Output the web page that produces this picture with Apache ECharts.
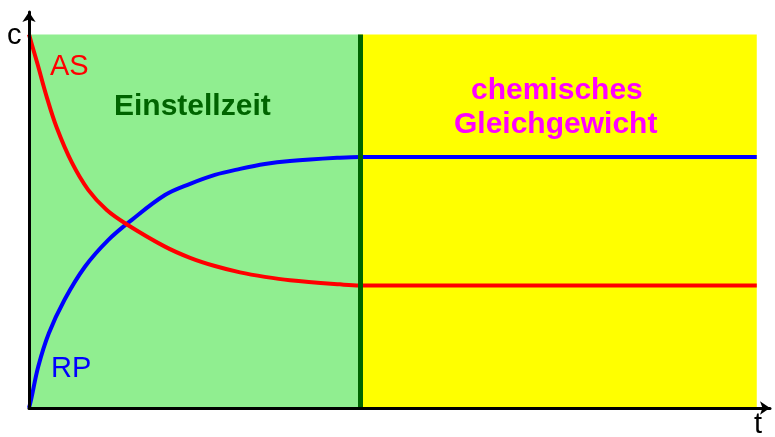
<!DOCTYPE html>
<html>
<head>
<meta charset="utf-8">
<script src="https://cdn.jsdelivr.net/npm/echarts@6/dist/echarts.min.js"></script>
<style>
  html, body { margin: 0; padding: 0; background: #fff; }
  #chart { width: 775px; height: 437px; }
</style>
</head>
<body>
<div id="chart"></div>
<script>
// Ausgangsstoffe (AS) und Reaktionsprodukte (RP): Zeit t, Konzentration c
var tAS = [0, 0.08, 0.26, 0.535, 0.84, 1.29, 1.79, 2.35, 2.95, 4.11, 4.87, 5.62, 6.38, 7.13, 7.89, 9.4, 10, 22];
var cAS = [100, 97.5, 92.0, 83.3, 75.0, 65.8, 58.4, 53.0, 49.2, 43.2, 40.2, 38.0, 36.3, 35.1, 34.2, 33.1, 32.8, 32.8];

var tRP = [0, 0.06, 0.28, 0.6, 1.07, 1.69, 2.4, 3.1, 4.11, 4.87, 5.62, 6.38, 7.13, 7.89, 9.4, 10, 22];
var cRP = [0, 2.1, 11.1, 20.0, 28.9, 37.8, 45.0, 50.3, 57.0, 60.0, 62.4, 64.0, 65.3, 66.1, 67.0, 67.2, 67.2];

// Phasen: Einstellzeit / chemisches Gleichgewicht
var phaseNames = ['Einstellzeit', 'chemisches', 'Gleichgewicht'];
var phaseStart = [0, 10];
var phaseEnd = [10, 22];
var cMax = 100;

function pairs(xs, ys) {
    var out = [];
    for (var i = 0; i < xs.length; i++) out.push([xs[i], ys[i]]);
    return out;
}

var myChart = echarts.init(document.getElementById('chart'));

var axisLine = {
    show: true,
    symbol: ['none', 'arrow'],
    symbolSize: [10, 10],
    lineStyle: { color: '#000', width: 3 }
};

var option = {
    animation: false,
    backgroundColor: '#ffffff',
    grid: {
        left: 29,
        right: 5,
        top: 12,
        bottom: 29
    },
    xAxis: {
        type: 'value',
        min: 0,
        max: 22.4,
        z: 10,
        axisLine: axisLine,
        axisTick: { show: false },
        axisLabel: { show: false },
        splitLine: { show: false }
    },
    yAxis: {
        type: 'value',
        min: 0,
        max: 106,
        z: 10,
        axisLine: axisLine,
        axisTick: { show: false },
        axisLabel: { show: false },
        splitLine: { show: false }
    },
    graphic: [
        { type: 'text', z: 100, left: 7, top: 21, style: { text: 'c', font: '29px "Liberation Sans", Arial', fill: '#000' } },
        { type: 'text', z: 100, left: 754, top: 410, style: { text: 't', font: '29px "Liberation Sans", Arial', fill: '#000' } },
        { type: 'text', z: 100, left: 50, top: 52, style: { text: 'AS', font: '29px "Liberation Sans", Arial', fill: '#ff0000' } },
        { type: 'text', z: 100, left: 51, top: 354, style: { text: 'RP', font: '29px "Liberation Sans", Arial', fill: '#0000ff' } },
        { type: 'text', z: 100, left: 114, top: 92, style: { text: phaseNames[0], font: 'bold 30px "Liberation Sans", Arial', fill: '#006400' } },
        { type: 'text', z: 100, left: 471, top: 76, style: { text: phaseNames[1], font: 'bold 30px "Liberation Sans", Arial', fill: '#ff00ff' } },
        { type: 'text', z: 100, left: 454, top: 110, style: { text: phaseNames[2], font: 'bold 30px "Liberation Sans", Arial', fill: '#ff00ff' } }
    ],
    series: [
        {
            name: 'Phasen',
            type: 'line',
            data: [],
            z: 1,
            markArea: {
                silent: true,
                data: [
                    [{ coord: [phaseStart[0], 0], itemStyle: { color: '#90ee90', opacity: 1 } }, { coord: [phaseEnd[0], cMax] }],
                    [{ coord: [phaseStart[1], 0], itemStyle: { color: '#ffff00', opacity: 1 } }, { coord: [phaseEnd[1], cMax] }]
                ]
            },
            markLine: {
                silent: true,
                symbol: 'none',
                label: { show: false },
                lineStyle: { color: '#006400', width: 5, type: 'solid' },
                data: [
                    [{ coord: [phaseEnd[0], 0] }, { coord: [phaseEnd[0], cMax] }]
                ]
            }
        },
        {
            name: 'RP',
            type: 'line',
            smooth: 0.35,
            showSymbol: false,
            z: 3,
            lineStyle: { color: '#0000ff', width: 4 },
            data: pairs(tRP, cRP)
        },
        {
            name: 'AS',
            type: 'line',
            smooth: 0.35,
            showSymbol: false,
            z: 3,
            lineStyle: { color: '#ff0000', width: 4 },
            data: pairs(tAS, cAS)
        }
    ]
};

myChart.setOption(option);
</script>
</body>
</html>
